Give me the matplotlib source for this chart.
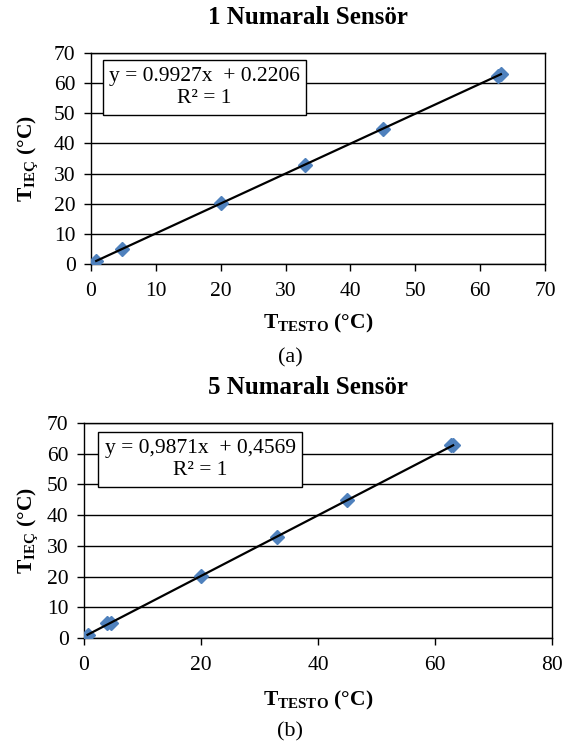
import matplotlib.pyplot as plt

plt.rcParams['font.family'] = ['Liberation Serif', 'DejaVu Serif']
plt.rcParams['mathtext.fontset'] = 'custom'
plt.rcParams['mathtext.rm'] = 'Liberation Serif'
plt.rcParams['mathtext.bf'] = 'Liberation Serif:bold'

# sensor 1 readings
testo_1 = [0.8, 4.8, 20.0, 33.0, 45.0, 62.8, 63.2]
iec_1 = [1.0, 4.9, 20.2, 33.0, 44.9, 62.5, 63.0]
# sensor 5 readings
testo_5 = [0.6, 4.0, 4.7, 20.0, 33.0, 45.0, 62.7, 63.1]
iec_5 = [1.0, 5.0, 5.0, 20.2, 33.0, 45.0, 62.7, 63.0]

fits = [(0.9927, 0.2206, "y = 0.9927x  + 0.2206"),
        (0.9871, 0.4569, "y = 0,9871x  + 0,4569")]
titles = ["1 Numaralı Sensör", "5 Numaralı Sensör"]
x_ticks = [list(range(0, 71, 10)), list(range(0, 81, 20))]
y_ticks = list(range(0, 71, 10))
captions = ["(a)", "(b)"]

W, H = 565, 742
blue = '#4F81BD'
fig = plt.figure(figsize=(W / 100, H / 100), dpi=100)


def px(x, y):
    # pixel position (from top-left) -> figure fraction
    return x / W, 1 - y / H


# axes boxes in pixels: left, top, right, bottom
boxes = [(91, 53, 545, 264), (84, 423, 552, 638)]
title_y = [18, 387]
xlabel_y = [323, 700]
caption_y = [358, 732]
eq_pos = [(0.25, 0.836), (0.248, 0.83)]

data = [(testo_1, iec_1), (testo_5, iec_5)]
for i in range(2):
    l, t, r, b_ = boxes[i]
    ax = fig.add_axes([l / W, 1 - b_ / H, (r - l) / W, (b_ - t) / H])
    xs, ys = data[i]
    a, b, eq = fits[i]
    ax.plot(xs, ys, linestyle='none', marker='D', markersize=7.5,
            color=blue, zorder=3)
    x0, x1 = min(xs), max(xs)
    ax.plot([x0, x1], [a * x0 + b, a * x1 + b], color='black', lw=1.6, zorder=4)
    ax.set_xlim(x_ticks[i][0], x_ticks[i][-1])
    ax.set_ylim(0, 70)
    ax.set_xticks(x_ticks[i])
    ax.set_yticks(y_ticks)
    ax.grid(axis='y', color='black', lw=1)
    ax.set_axisbelow(True)
    for s in ax.spines.values():
        s.set_linewidth(1)
    ax.tick_params(direction='out', length=5, width=1, labelsize=15.5)
    ax.tick_params(axis='x', pad=8)
    ax.tick_params(axis='y', pad=6)

    cx = (l + r) / 2
    cy = (t + b_) / 2
    fig.text(*px(cx - 10, title_y[i]), titles[i],
             ha='center', va='center', fontsize=18, fontweight='bold')
    fig.text(*px(cx, xlabel_y[i]), r'$\mathbf{T}_{\mathbf{TESTO}}$ (°C)',
             ha='center', va='center', fontsize=15.5, fontweight='bold')
    fig.text(*px(28, cy), r'$\mathbf{T}_{\mathbf{IEÇ}}$ (°C)', rotation=90,
             ha='center', va='center', fontsize=15.5, fontweight='bold')
    fig.text(*px(cx - 28, caption_y[i]), captions[i],
             ha='center', va='center', fontsize=16)
    ax.text(eq_pos[i][0], eq_pos[i][1], eq + "\nR² = 1", transform=ax.transAxes,
            ha='center', va='center', fontsize=15.5, linespacing=1.25,
            bbox=dict(boxstyle='square,pad=0.3', fc='white', ec='black', lw=1))

fig.savefig('out.png', dpi=100)
